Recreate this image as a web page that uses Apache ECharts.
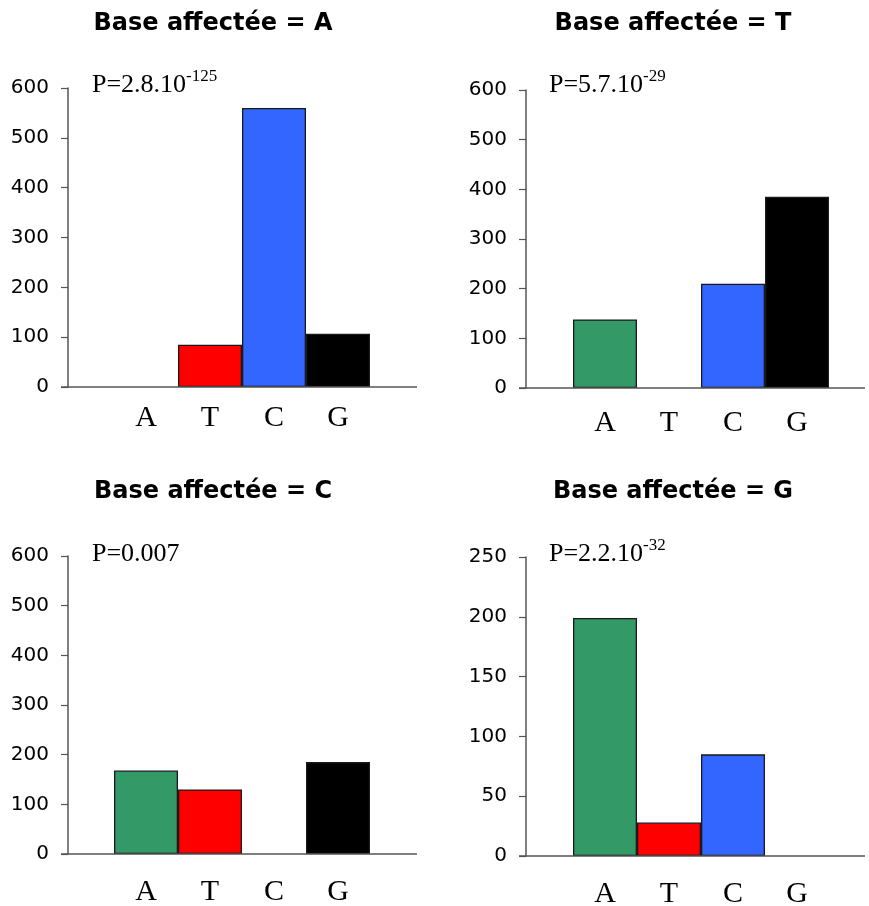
<!DOCTYPE html>
<html>
<head>
<meta charset="utf-8">
<style>
  html, body { margin: 0; padding: 0; background: #fff; }
  #chart { width: 869px; height: 906px; }
</style>
<script src="https://cdn.jsdelivr.net/npm/echarts@6/dist/echarts.min.js"></script>
</head>
<body>
<div id="chart"></div>
<script>
// Substituting bases, in the same order for every panel
const bases = ['A', 'T', 'C', 'G'];
const baseColors = ['#339966', '#FF0000', '#3366FF', '#000000'];

// Panel titles (affected base)
const titles = ['Base affectée = A', 'Base affectée = T', 'Base affectée = C', 'Base affectée = G'];

// P-values: mantissa text and exponent
const pMain = ['P=2.8.10', 'P=5.7.10', 'P=0.007', 'P=2.2.10'];
const pExp = ['-125', '-29', '', '-32'];

// Counts per substituting base
const countsA = [0, 85, 560, 107];
const countsT = [138, 0, 210, 385];
const countsC = [168, 130, 0, 185];
const countsG = [199, 28, 85, 0];
const allCounts = [countsA, countsT, countsC, countsG];

// Y-axis ranges
const yMax = [600, 600, 600, 250];
const yStep = [100, 100, 100, 50];

// Panel layout (pixels)
const panels = [
  { left: 114, top: 88, height: 299, axisX: 68, titleX: 213, titleY: 24, pX: 92, pY: 68, labelMargin: 16, lineEnd: 417 },
  { left: 573, top: 90, height: 298, axisX: 526, titleX: 673, titleY: 24, pX: 549, pY: 68, labelMargin: 20, lineEnd: 865 },
  { left: 114, top: 556, height: 298, axisX: 68, titleX: 213, titleY: 492, pX: 92, pY: 537, labelMargin: 23, lineEnd: 417 },
  { left: 573, top: 557, height: 299, axisX: 526, titleX: 673, titleY: 492, pX: 549, pY: 537, labelMargin: 23, lineEnd: 865 }
];
const catWidth = 64;

const grid = [], xAxis = [], yAxis = [], series = [], graphic = [];

panels.forEach((p, i) => {
  grid.push({
    left: p.left, top: p.top, width: catWidth * bases.length, height: p.height,
    containLabel: false, outerBoundsMode: 'none'
  });
  xAxis.push({
    type: 'category', gridIndex: i, data: bases,
    axisLine: { show: false }, axisTick: { show: false },
    axisLabel: { fontFamily: '"Liberation Serif", serif', fontSize: 30, color: '#000', margin: p.labelMargin }
  });
  yAxis.push({
    type: 'value', gridIndex: i, min: 0, max: yMax[i], interval: yStep[i],
    offset: p.left - p.axisX,
    splitLine: { show: false },
    axisLine: { show: true, lineStyle: { color: '#555', width: 1.5 } },
    axisTick: { show: true, length: 7, lineStyle: { color: '#555', width: 1.2 } },
    axisLabel: { fontFamily: '"DejaVu Sans", sans-serif', fontSize: 20, color: '#000', margin: 19 }
  });
  series.push({
    type: 'bar', xAxisIndex: i, yAxisIndex: i,
    barCategoryGap: '0%',
    data: allCounts[i].map((v, k) => ({
      value: v,
      itemStyle: { color: baseColors[k], borderColor: v > 0 ? '#1a1a1a' : 'transparent', borderWidth: 1.3 }
    })),
    silent: true,
    animation: false
  });
  // baseline of the x axis, running past the bars
  const baseY = p.top + p.height;
  graphic.push({
    type: 'line', z: 10,
    shape: { x1: p.axisX - 7, y1: baseY, x2: p.lineEnd, y2: baseY },
    style: { stroke: '#555', lineWidth: 1.5 }
  });
  graphic.push({
    type: 'text',
    style: {
      x: p.titleX, y: p.titleY, text: titles[i], align: 'center', verticalAlign: 'middle',
      font: 'bold 24px "DejaVu Sans", sans-serif', fill: '#000'
    }
  });
  graphic.push({
    type: 'text',
    style: {
      x: p.pX, y: p.pY, align: 'left', verticalAlign: 'top',
      text: '{b|' + pMain[i] + '}' + (pExp[i] ? '{s|' + pExp[i] + '}' : ''),
      rich: {
        b: { fontFamily: '"Liberation Serif", serif', fontSize: 26, lineHeight: 30, verticalAlign: 'bottom', fill: '#000' },
        s: { fontFamily: '"Liberation Serif", serif', fontSize: 17, lineHeight: 10, verticalAlign: 'top', fill: '#000' }
      }
    }
  });
});

const chart = echarts.init(document.getElementById('chart'), null, { renderer: 'canvas' });
chart.setOption({
  backgroundColor: '#fff',
  animation: false,
  grid, xAxis, yAxis, series, graphic
});
</script>
</body>
</html>
